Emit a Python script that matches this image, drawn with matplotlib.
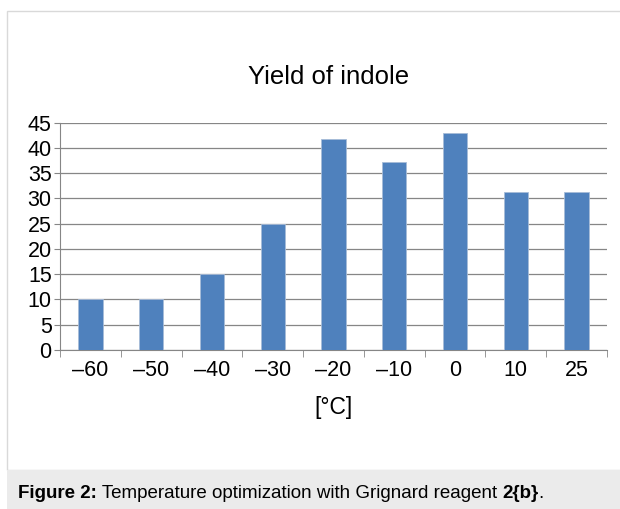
import numpy as np
import matplotlib.pyplot as plt
from matplotlib.patches import Rectangle

plt.rcParams['font.family'] = ['Liberation Sans', 'DejaVu Sans']

temps = ['\u201360', '\u201350', '\u201340', '\u201330', '\u201320', '\u201310', '0', '10', '25']
yields = [10, 10, 15, 25, 41.7, 37.3, 43.0, 31.3, 31.3]
yticks = [0, 5, 10, 15, 20, 25, 30, 35, 40, 45]

W, H = 620, 509
fig = plt.figure(figsize=(W / 100, H / 100), dpi=100)

# outer frame and caption band
fig.patches.append(Rectangle((7 / W, 39 / H), 1, (H - 11 - 39) / H, transform=fig.transFigure,
                             fill=False, edgecolor='#d9d9d9', linewidth=1))
fig.patches.append(Rectangle((7 / W, 0), 1, 39 / H, transform=fig.transFigure,
                             facecolor='#ebebeb', edgecolor='none'))

ax = fig.add_axes([60 / W, (H - 350) / H, (607 - 60) / W, (350 - 122.7) / H])
x = np.arange(len(temps))
ax.bar(x, yields, width=0.4, color='#4f81bd', edgecolor='#a7bcd8', linewidth=0.6, zorder=3)

ax.set_xlim(-0.5, len(temps) - 0.5)
ax.set_ylim(0, 45)
ax.set_yticks(yticks)
ax.set_xticks(x)
ax.set_xticklabels(temps, fontsize=15.5)
ax.tick_params(axis='y', labelsize=15.5, length=4, color='#868686', pad=2)
ax.tick_params(axis='x', length=0, pad=7)
ax.set_xticks(np.arange(-0.5, len(temps), 1), minor=True)
ax.tick_params(axis='x', which='minor', length=5, color='#868686')
ax.grid(axis='y', color='#868686', linewidth=0.9, zorder=0)
for s in ['top', 'right']:
    ax.spines[s].set_visible(False)
ax.spines['left'].set_color('#868686')
ax.spines['bottom'].set_color('#868686')
ax.set_xlabel('[\u00b0C]', fontsize=16.5, labelpad=11)

fig.text(329 / W, (H - 77) / H, 'Yield of indole', ha='center', va='center', fontsize=18.5)

# caption: bold / regular / bold / regular pieces
renderer = fig.canvas.get_renderer()
xpos = 18
for txt, wt in [('Figure 2:', 'bold'), (' Temperature optimization with Grignard reagent ', 'normal'),
                ('2{b}', 'bold'), ('.', 'normal')]:
    tt = fig.text(xpos / W, (H - 494) / H, txt, ha='left', va='center', fontsize=13.5, fontweight=wt)
    xpos += tt.get_window_extent(renderer).width

fig.savefig('out.png', dpi=100)
